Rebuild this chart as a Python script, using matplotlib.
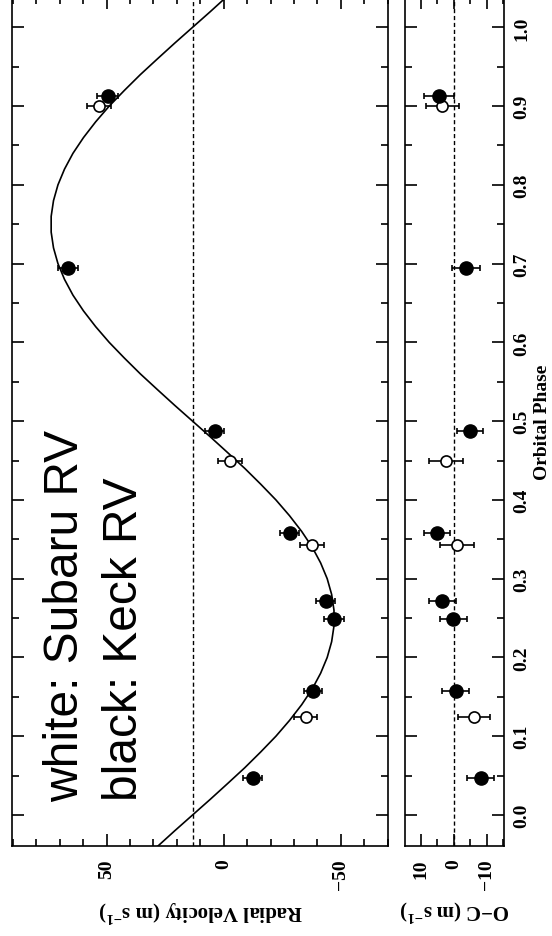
import matplotlib
matplotlib.use("Agg")
import matplotlib.pyplot as plt
from matplotlib.ticker import MultipleLocator

# ---- data ----
keck_phase = [0.047, 0.157, 0.249, 0.272, 0.358, 0.487, 0.694, 0.913]
keck_rv = [-12.3, -38.1, -47.1, -43.5, -28.1, 3.9, 66.6, 49.5]
keck_err = [4.0, 4.0, 4.2, 4.2, 4.0, 4.0, 4.2, 4.5]
keck_res = [-8.2, -0.6, 0.1, 3.4, 5.1, -4.9, -3.8, 4.5]

subaru_phase = [0.124, 0.343, 0.450, 0.900]
subaru_rv = [-35.0, -37.7, -2.8, 53.2]
subaru_err = [4.8, 5.2, 5.1, 5.0]
subaru_res = [-6.2, -0.9, 2.4, 3.5]

model_phase = [-0.04, -0.02, 0.00, 0.02, 0.04, 0.06, 0.08, 0.10, 0.12, 0.14,
               0.16, 0.18, 0.20, 0.22, 0.24, 0.26, 0.28, 0.30, 0.32, 0.34,
               0.36, 0.38, 0.40, 0.42, 0.44, 0.46, 0.48, 0.50, 0.52, 0.54,
               0.56, 0.58, 0.60, 0.62, 0.64, 0.66, 0.68, 0.70, 0.72, 0.74,
               0.76, 0.78, 0.80, 0.82, 0.84, 0.86, 0.88, 0.90, 0.92, 0.94,
               0.96, 0.98, 1.00, 1.02, 1.04]
model_rv = [28.3, 20.9, 13.3, 5.7, -1.7, -9.0, -15.8, -22.3, -28.1, -33.3,
            -37.8, -41.4, -44.2, -46.1, -47.1, -47.1, -46.1, -44.2, -41.4, -37.8,
            -33.3, -28.1, -22.3, -15.8, -9.0, -1.7, 5.7, 13.3, 20.9, 28.3,
            35.6, 42.4, 48.9, 54.7, 59.9, 64.4, 68.0, 70.8, 72.7, 73.7,
            73.7, 72.7, 70.8, 68.0, 64.4, 59.9, 54.7, 48.9, 42.4, 35.6,
            28.3, 20.9, 13.3, 5.7, -1.7]
gamma = 13.3

plt.rcParams['font.family'] = ['Liberation Serif', 'DejaVu Serif']
plt.rcParams['font.weight'] = 'bold'
plt.rcParams['mathtext.default'] = 'regular'

W, H = 552, 937
fig = plt.figure(figsize=(W / 100, H / 100), dpi=100)
bot = (H - 846.7) / H
hgt = 848.7 / H
ax1 = fig.add_axes([12.3 / W, bot, 376 / W, hgt])
ax2 = fig.add_axes([405 / W, bot, 99 / W, hgt])

# main panel
ax1.plot(model_rv, model_phase, color='black', lw=1.2, zorder=2)
ax1.axvline(gamma, color='black', lw=1.0, ls=(0, (3, 2)), zorder=1)
ax1.errorbar(subaru_rv, subaru_phase, xerr=subaru_err, fmt='o', ms=8,
             mfc='white', mec='black', mew=1.2, ecolor='black',
             elinewidth=1.2, capsize=2.5, capthick=1.2, zorder=3)
ax1.errorbar(keck_rv, keck_phase, xerr=keck_err, fmt='o', ms=9.5,
             mfc='black', mec='black', ecolor='black',
             elinewidth=1.2, capsize=2.5, capthick=1.2, zorder=4)
ax1.set_xlim(90.3, -70.3)
ax1.set_ylim(-0.039, 1.0385)
ax1.xaxis.set_major_locator(MultipleLocator(50))
ax1.xaxis.set_minor_locator(MultipleLocator(10))

# residual panel
ax2.axvline(0, color='black', lw=1.0, ls=(0, (3, 2)), zorder=1)
ax2.errorbar(subaru_res, subaru_phase, xerr=subaru_err, fmt='o', ms=8,
             mfc='white', mec='black', mew=1.2, ecolor='black',
             elinewidth=1.2, capsize=2.5, capthick=1.2, zorder=3)
ax2.errorbar(keck_res, keck_phase, xerr=keck_err, fmt='o', ms=9.5,
             mfc='black', mec='black', ecolor='black',
             elinewidth=1.2, capsize=2.5, capthick=1.2, zorder=4)
ax2.set_xlim(14.8, -15.3)
ax2.set_ylim(-0.039, 1.0385)
ax2.xaxis.set_major_locator(MultipleLocator(10))
ax2.xaxis.set_minor_locator(MultipleLocator(5))

for ax in (ax1, ax2):
    ax.yaxis.set_major_locator(MultipleLocator(0.1))
    ax.yaxis.set_minor_locator(MultipleLocator(0.05))
    ax.tick_params(which='both', direction='in', top=True, bottom=True,
                   left=True, right=True, width=1.2, colors='black')
    ax.tick_params(which='major', length=8.8)
    ax.tick_params(which='minor', length=5)
    ax.tick_params(axis='x', labelsize=14, pad=9, labelrotation=90)
    for s in ax.spines.values():
        s.set_linewidth(1.2)

ax1.tick_params(axis='y', labelleft=False, labelright=False)
ax2.tick_params(axis='y', labelleft=False, labelright=True, labelsize=14,
                pad=6.5, labelrotation=90)
for lbl in ax2.get_yticklabels():
    lbl.set_va('center')

ax1.set_xlabel('Radial Velocity (m s$^{-1}$)', rotation=180, fontsize=15,
               fontweight='bold', labelpad=6)
ax2.set_xlabel('O\u2212C (m s$^{-1}$)', rotation=180, fontsize=15,
               fontweight='bold', labelpad=6)
ax2.yaxis.set_label_position('right')
ax2.set_ylabel('Orbital Phase', rotation=90, fontsize=14, fontweight='bold',
               labelpad=3)

fig.text(78 / W, (H - 802) / H, 'white: Subaru RV', rotation=90,
         rotation_mode='anchor', ha='left', va='baseline', fontsize=34.5,
         family='Liberation Sans', fontweight='normal')
fig.text(137 / W, (H - 801) / H, 'black: Keck RV', rotation=90,
         rotation_mode='anchor', ha='left', va='baseline', fontsize=34.5,
         family='Liberation Sans', fontweight='normal')

fig.savefig('out.png', dpi=100)
